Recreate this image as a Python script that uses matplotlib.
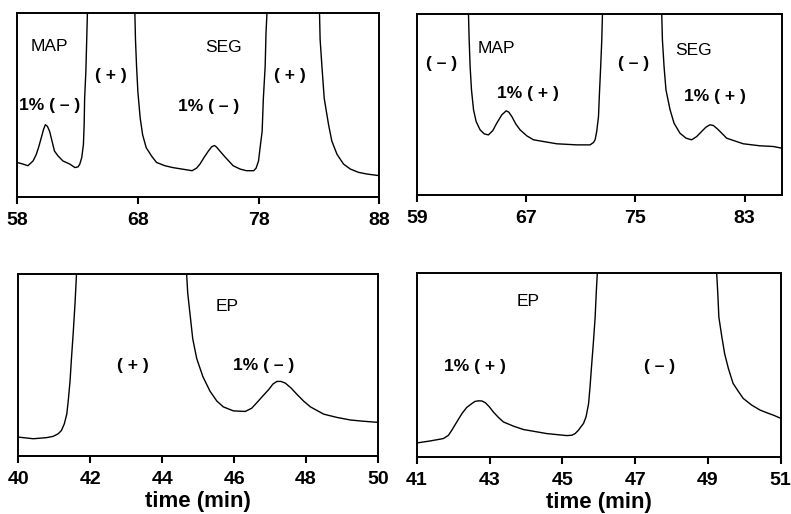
import matplotlib
matplotlib.use("Agg")
import matplotlib.pyplot as plt

plt.rcParams['font.family'] = ['Liberation Sans', 'DejaVu Sans']

# traces (y in arbitrary detector units, axes span 0-100;
# the big peaks run off the top of the plot)
map_seg_a_t = [58.0, 58.5, 58.9, 59.33, 59.6, 59.82, 60.0, 60.21, 60.35, 60.52, 60.7, 60.9, 61.1, 61.4,
               61.8, 62.37, 62.8, 63.06, 63.2, 63.36, 63.5, 63.56, 63.6, 63.7, 63.75, 63.83, 64.2,
               67.4, 67.76, 67.81, 67.9, 68.01, 68.2, 68.4, 68.7, 69.14, 69.55, 70.25, 70.9, 72.5,
               72.87, 73.15, 73.48, 73.85, 74.12, 74.35, 74.53, 74.8, 75.22, 75.9, 76.47, 77.0, 77.6,
               77.8, 78.0, 78.13, 78.3, 78.4, 78.55, 78.62, 78.7, 79.0,
               82.8, 83.05, 83.1, 83.25, 83.44, 83.8, 84.07, 84.5, 85.04, 85.6, 86.28, 86.97, 88.0]
map_seg_a_y = [18.8, 17.9, 17.0, 19.6, 23.2, 27.7, 32.0, 37.0, 39.3, 38.4, 35.7, 30.4, 25.0, 22.3,
               19.6, 17.9, 16.0, 16.4, 17.9, 21.4, 28.6, 39.3, 53.6, 67.9, 80.0, 100.0, 200.0,
               200.0, 100.0, 85.7, 71.0, 57.1, 43.0, 33.9, 26.8, 22.3, 18.8, 17.0, 16.0, 14.3,
               15.7, 17.9, 21.4, 25.0, 27.3, 28.0, 27.1, 25.0, 21.8, 17.0, 15.2, 14.3, 14.3,
               15.7, 19.6, 26.8, 35.7, 53.6, 71.0, 89.3, 100.0, 200.0,
               200.0, 100.0, 85.7, 71.0, 53.6, 39.3, 30.4, 23.2, 17.9, 15.2, 13.4, 12.5, 11.6]

map_seg_b_t = [59.0, 62.6, 62.78, 62.83, 62.9, 63.0, 63.15, 63.34, 63.63, 63.93, 64.24, 64.56, 64.85,
               65.22, 65.54, 65.73, 65.95, 66.24, 66.56, 67.05, 67.54, 69.24, 70.7, 71.68, 71.93,
               72.05, 72.17, 72.3, 72.37, 72.46, 72.54, 72.59, 72.8,
               76.7, 76.93, 76.98, 77.1, 77.24, 77.54, 77.83, 78.27, 78.71, 79.12, 79.49, 79.85,
               80.17, 80.46, 80.71, 80.95, 81.32, 81.68, 82.9, 84.1, 85.1, 85.7]
map_seg_b_y = [200.0, 200.0, 100.0, 85.6, 70.9, 58.0, 47.0, 40.5, 35.9, 33.7, 33.1, 35.5, 39.6,
               44.2, 46.4, 45.7, 43.3, 39.2, 35.9, 32.6, 30.4, 28.2, 27.6, 27.6, 28.9,
               30.4, 35.0, 43.3, 56.2, 70.9, 85.6, 100.0, 200.0,
               200.0, 100.0, 85.6, 70.9, 58.0, 47.0, 39.6, 34.0, 31.3, 30.4, 32.2, 35.0,
               37.4, 38.7, 38.3, 36.8, 34.1, 31.3, 28.2, 27.1, 26.7, 25.8]

ep_a_t = [40.0, 40.42, 40.79, 40.97, 41.11, 41.2, 41.28, 41.35, 41.39, 41.44, 41.48, 41.53, 41.58,
          41.62, 41.8, 44.5, 44.68, 44.71, 44.78, 44.85, 44.96, 45.13, 45.33, 45.52, 45.7, 45.98,
          46.31, 46.49, 46.63, 46.82, 46.96, 47.08, 47.19, 47.3, 47.42, 47.58, 47.75, 47.93, 48.12,
          48.49, 48.86, 49.23, 49.6, 50.0]
ep_a_y = [10.4, 9.5, 10.1, 10.8, 12.2, 14.0, 17.6, 23.0, 30.2, 41.0, 53.6, 68.0, 84.2,
          100.0, 200.0, 200.0, 100.0, 89.6, 77.0, 64.4, 53.6, 43.7, 35.6, 30.2, 27.0, 24.8,
          24.5, 26.3, 29.3, 33.5, 36.5, 39.6, 41.0, 41.0, 40.1, 37.4, 33.8, 30.2, 27.0,
          23.0, 21.2, 19.8, 19.1, 18.5]

ep_b_t = [41.0, 41.37, 41.73, 41.87, 41.96, 42.1, 42.24, 42.37, 42.51, 42.6, 42.7, 42.79, 42.88,
          42.99, 43.1, 43.24, 43.38, 43.66, 43.93, 44.57, 45.12, 45.26, 45.35, 45.44, 45.51,
          45.58, 45.65, 45.72, 45.76, 45.8, 45.85, 45.9, 45.93, 45.96, 46.2,
          49.0, 49.24, 49.27, 49.3, 49.38, 49.46, 49.56, 49.69, 49.84, 49.97, 50.2, 50.43,
          50.62, 50.8, 51.0]
ep_b_y = [7.6, 8.7, 10.0, 11.8, 14.5, 19.1, 23.6, 26.9, 29.0, 30.2, 30.5, 30.4, 29.5,
          27.3, 24.5, 21.5, 19.0, 16.7, 14.9, 12.7, 11.6, 11.8, 12.7, 14.5, 16.4,
          18.2, 21.8, 29.0, 38.2, 49.0, 61.8, 76.0, 89.1, 100.0, 200.0,
          200.0, 100.0, 89.1, 76.0, 65.5, 56.0, 48.2, 40.0, 35.5, 31.8, 28.2, 25.5,
          24.0, 22.7, 21.0]

panels = [
    dict(t=map_seg_a_t, y=map_seg_a_y, xlim=(58, 88), ticks=[58, 68, 78, 88],
         rect=[0.0215, 0.6167, 0.458, 0.358],
         labels=[(60.7, 82, "MAP", "normal"), (65.8, 66, "( + )", "bold"),
                 (75.1, 81, "SEG", "normal"), (80.6, 66, "( + )", "bold"),
                 (60.7, 50, "1% ( – )", "bold"), (73.85, 49, "1% ( – )", "bold")]),
    dict(t=map_seg_b_t, y=map_seg_b_y, xlim=(59, 85.7), ticks=[59, 67, 75, 83],
         rect=[0.527, 0.621, 0.461, 0.352],
         labels=[(60.83, 72.7, "( – )", "bold"), (64.85, 81, "MAP", "normal"),
                 (67.17, 56, "1% ( + )", "bold"), (74.85, 72.7, "( – )", "bold"),
                 (79.24, 80, "SEG", "normal"), (80.83, 54.3, "1% ( + )", "bold")]),
    dict(t=ep_a_t, y=ep_a_y, xlim=(40, 50), ticks=[40, 42, 44, 46, 48, 50],
         rect=[0.023, 0.1128, 0.455, 0.354],
         labels=[(45.8, 82, "EP", "normal"), (43.2, 50, "( + )", "bold"),
                 (46.82, 50, "1% ( – )", "bold")]),
    dict(t=ep_b_t, y=ep_b_y, xlim=(41, 51), ticks=[41, 43, 45, 47, 49, 51],
         rect=[0.527, 0.111, 0.460, 0.358],
         labels=[(44.07, 84.5, "EP", "normal"), (42.6, 49, "1% ( + )", "bold"),
                 (47.68, 49, "( – )", "bold")]),
]

fig = plt.figure(figsize=(7.91, 5.14), dpi=100)
for i, p in enumerate(panels):
    ax = fig.add_axes(p["rect"])
    ax.plot(p["t"], p["y"], color="black", lw=1.0)
    ax.set_xlim(*p["xlim"])
    ax.set_ylim(0, 100)
    ax.set_xticks(p["ticks"])
    ax.set_yticks([])
    ax.tick_params(axis="x", direction="out", length=5, width=1.5, labelsize=14, pad=6)
    for lab in ax.get_xticklabels():
        lab.set_fontweight("bold")
    for s in ax.spines.values():
        s.set_linewidth(1.4)
    for x, y, s, w in p["labels"]:
        ax.text(x, y, s, ha="center", va="center", fontsize=12.5, fontweight=w)
    if i >= 2:
        ax.set_xlabel("time (min)", fontsize=16, fontweight="bold", labelpad=2)

fig.savefig("out.png", dpi=100)
